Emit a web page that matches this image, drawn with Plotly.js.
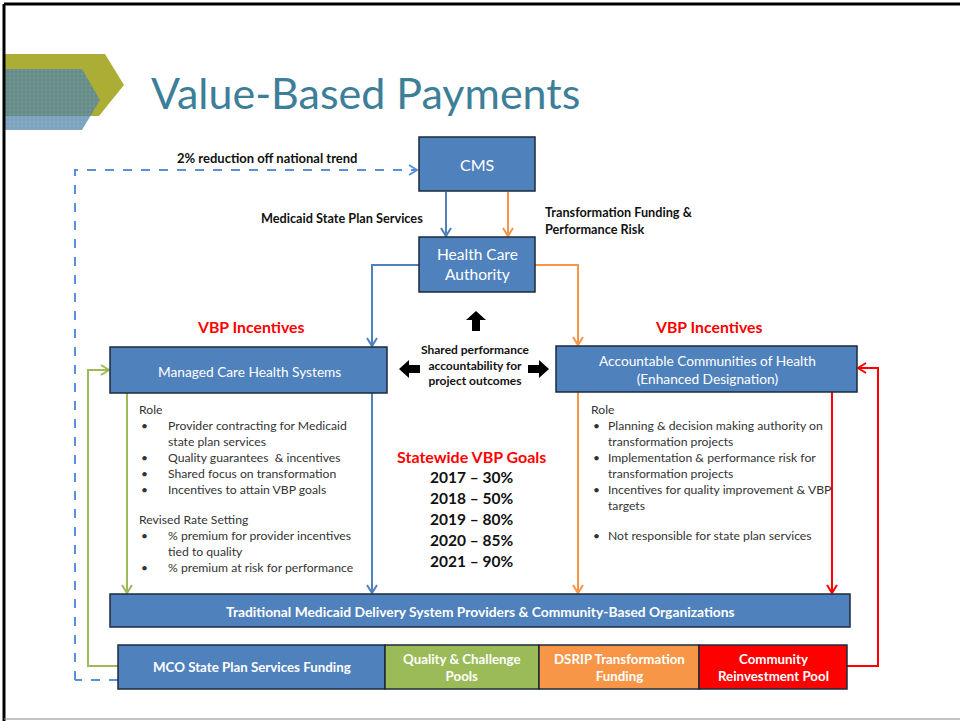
<!DOCTYPE html>
<html><head><meta charset="utf-8">
<script src="https://cdn.plot.ly/plotly-3.0.1.min.js"></script>
<style>html,body{margin:0;padding:0;background:#fff}#chart{width:960px;height:721px}</style>
</head><body><div id="chart"></div>
<script>
// ---- content (data) ----
const titleText = 'Value-Based Payments';
const goalYears = [2017, 2018, 2019, 2020, 2021];
const goalPct = [30, 50, 80, 85, 90];
const goalTitle = 'Statewide VBP Goals';
const mcoRoleItems = [
  ['Provider contracting for Medicaid', 'state plan services'],
  ['Quality guarantees  & incentives'],
  ['Shared focus on transformation'],
  ['Incentives to attain VBP goals']
];
const mcoRateItems = [
  ['% premium for provider incentives', 'tied to quality'],
  ['% premium at risk for performance']
];
const achRoleItems = [
  ['Planning & decision making authority on', 'transformation projects'],
  ['Implementation & performance risk for', 'transformation projects'],
  ['Incentives for quality improvement & VBP', 'targets'],
  [],
  ['Not responsible for state plan services']
];
const poolLabels = ['MCO State Plan Services Funding', 'Quality & Challenge<br>Pools', 'DSRIP Transformation<br>Funding', 'Community<br>Reinvestment Pool'];
const poolColors = ['#4f81bd', '#9bbb59', '#f79646', '#ff0000'];

// ---- styles / geometry ----
const F = 'Lato, "Open Sans", sans-serif';
const BLUE = '#4f81bd', ORANGE = '#f79646', GREEN = '#9bbb59', RED = '#ff0000', DASH = '#5b8fd9';
const shapes = [];
const ann = [];
function box(x0, y0, x1, y1, fill) {
  shapes.push({type: 'rect', xref: 'x', yref: 'y', x0, y0, x1, y1, fillcolor: fill, line: {color: '#1c2a3c', width: 1.5}, layer: 'above'});
}
function line(pts, color, dash, w) {
  let p = 'M' + pts.map(q => q[0] + ',' + q[1]).join(' L');
  shapes.push({type: 'path', path: p, line: {color, width: w || 2, dash: dash || 'solid'}, layer: 'below'});
}
function head(x, y, dir, color) {
  const s = 5, l = 8;
  let p;
  if (dir === 'down') p = `M${x - s},${y - l} L${x},${y} L${x + s},${y - l}`;
  if (dir === 'right') p = `M${x - l},${y - s} L${x},${y} L${x - l},${y + s}`;
  if (dir === 'left') p = `M${x + l},${y - s} L${x},${y} L${x + l},${y + s}`;
  shapes.push({type: 'path', path: p, line: {color, width: 2}, layer: 'above'});
}
function txt(x, y, text, size, color, bold, anchor) {
  ann.push({x, y, xref: 'x', yref: 'y', text: bold ? '<b>' + text + '</b>' : text, showarrow: false,
    font: {family: F, size, color}, xanchor: anchor || 'center', yanchor: 'middle',
    align: anchor === 'left' ? 'left' : (anchor === 'right' ? 'right' : 'center')});
}

// page frame
shapes.push({type: 'line', x0: 4, y0: 4, x1: 960, y1: 4, line: {color: '#000', width: 3}});
shapes.push({type: 'line', x0: 4, y0: 4, x1: 4, y1: 721, line: {color: '#000', width: 3}});
shapes.push({type: 'line', x0: 4, y0: 719, x1: 960, y1: 719, line: {color: '#888', width: 1}});

// chevrons
shapes.push({type: 'path', path: 'M5,54 L105,54 L124,85 L99,116 L5,116 Z', fillcolor: '#abad35', line: {width: 0}, layer: 'below'});
shapes.push({type: 'path', path: 'M5,69 L82,69 L100,100 L82,130 L5,130 Z', fillcolor: 'rgba(70,125,165,0.72)', line: {width: 0}, layer: 'below'});

// connectors
line([[75, 680], [75, 170], [416, 170]], DASH, 'dash', 2); head(417, 170, 'right', DASH);
line([[446, 192], [446, 235]], BLUE); head(446, 236, 'down', BLUE);
line([[508, 192], [508, 235]], ORANGE); head(508, 236, 'down', ORANGE);
line([[419, 265], [372, 265], [372, 345]], BLUE); head(372, 346, 'down', BLUE);
line([[535, 265], [578, 265], [578, 344]], ORANGE); head(578, 345, 'down', ORANGE);
line([[118, 666], [88, 666], [88, 370], [108, 370]], GREEN); head(109, 370, 'right', GREEN);
line([[127, 393], [127, 592]], GREEN); head(127, 593, 'down', GREEN);
line([[372, 393], [372, 592]], BLUE); head(372, 593, 'down', BLUE);
line([[578, 392], [578, 592]], ORANGE); head(578, 593, 'down', ORANGE);
line([[832, 392], [832, 592]], RED); head(832, 593, 'down', RED);
line([[847, 666], [878, 666], [878, 368], [859, 368]], RED); head(858, 368, 'left', RED);
line([[118, 680], [75, 680]], DASH, 'dash', 2);

// boxes
box(419, 137, 535, 191, BLUE);
box(419, 237, 535, 292, BLUE);
box(110, 347, 387, 393, BLUE);
box(556, 346, 857, 392, BLUE);
box(110, 594, 850, 627, BLUE);
const poolX = [118, 385, 539, 699, 847];
poolLabels.forEach((lab, i) => {
  box(poolX[i], 645, poolX[i + 1], 689, poolColors[i]);
  txt((poolX[i] + poolX[i + 1]) / 2, 667, lab, 13.3, '#fff', true);
});

// block arrows
shapes.push({type: 'path', path: 'M476,311 L486,320 L480,320 L480,331 L472,331 L472,320 L466,320 Z', fillcolor: '#000', line: {width: 0}});
shapes.push({type: 'path', path: 'M399,369 L409,360 L409,365 L420,365 L420,373 L409,373 L409,378 Z', fillcolor: '#000', line: {width: 0}});
shapes.push({type: 'path', path: 'M549,369 L539,360 L539,365 L528,365 L528,373 L539,373 L539,378 Z', fillcolor: '#000', line: {width: 0}});

// texts
txt(149, 92, titleText, 43, '#3d7e99', false, 'left');
txt(267, 158, '2% reduction off national trend', 13, '#111', true);
txt(477, 164, 'CMS', 16, '#fff', false);
txt(477, 264, 'Health Care<br>Authority', 15.5, '#fff', false);
txt(425, 218, 'Medicaid State Plan Services', 12.7, '#111', true, 'right');
txt(543, 220, 'Transformation Funding &<br>Performance Risk', 12.7, '#111', true, 'left');
txt(250, 326, 'VBP Incentives', 15.8, '#ff0000', true);
txt(708, 326, 'VBP Incentives', 15.8, '#ff0000', true);
txt(475, 365, 'Shared performance<br>accountability for<br>project outcomes', 12, '#111', true);
txt(249, 371, 'Managed Care Health Systems', 13.7, '#fff', false);
txt(707, 369, 'Accountable Communities of Health<br>(Enhanced Designation)', 13.7, '#fff', false);
txt(480, 611, 'Traditional Medicaid Delivery System Providers & Community-Based Organizations', 13.8, '#fff', true);

// bullet lists
const TC = '#333';
function bulletList(xRole, xBullet, xText, y0, heading, items) {
  txt(xRole, y0, heading, 12.2, TC, false, 'left');
  let y = y0 + 16;
  items.forEach(it => {
    if (it.length === 0) { y += 14; return; }
    txt(xBullet, y, '•', 12, TC, false, 'left');
    it.forEach(l => { txt(xText, y, l, 12.2, TC, false, 'left'); y += 16; });
  });
  return y;
}
bulletList(137, 139, 166, 409, 'Role', mcoRoleItems);
bulletList(137, 139, 166, 519, 'Revised Rate Setting', mcoRateItems);
bulletList(589, 591, 606, 409, 'Role', achRoleItems);

txt(471, 456, goalTitle, 16, '#ff0000', true);
goalYears.forEach((yr, i) => txt(471, 477 + i * 21, yr + ' – ' + goalPct[i] + '%', 15.5, '#111', true));

// dotted texture on the blue chevron (pattern-filled trace)
const traces = [{
  type: 'scatter', mode: 'lines', x: [5, 82, 100, 82, 5, 5], y: [69, 69, 100, 130, 130, 69],
  fill: 'toself', fillcolor: 'rgba(0,0,0,0)', line: {width: 0, color: 'rgba(0,0,0,0)'},
  fillpattern: {shape: '+', fgcolor: 'rgba(255,255,255,0.35)', bgcolor: 'rgba(0,0,0,0)', size: 4, solidity: 0.25, fillmode: 'overlay'},
  hoverinfo: 'skip', showlegend: false
}];

const layout = {
  width: 960, height: 721, margin: {l: 0, r: 0, t: 0, b: 0},
  paper_bgcolor: '#fff', plot_bgcolor: '#fff', showlegend: false,
  xaxis: {range: [0, 960], visible: false, fixedrange: true},
  yaxis: {range: [721, 0], visible: false, fixedrange: true},
  shapes, annotations: ann
};
Plotly.newPlot('chart', traces, layout, {displayModeBar: false, staticPlot: true});
</script></body></html>
